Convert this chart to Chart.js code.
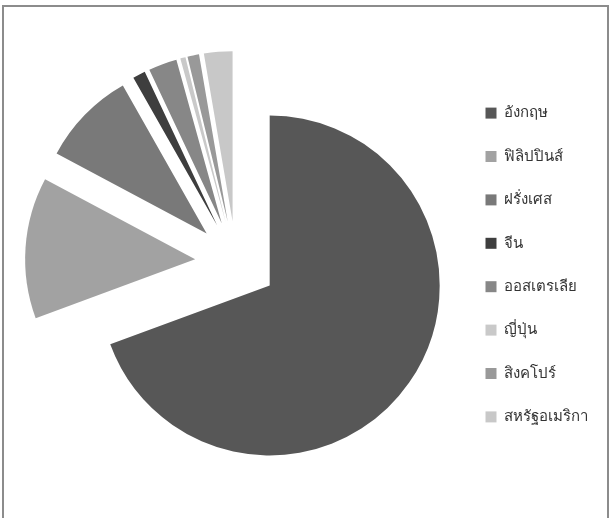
<!DOCTYPE html>
<html>
<head>
<meta charset="utf-8">
<script src="https://cdn.jsdelivr.net/npm/chart.js@4.4.1/dist/chart.umd.min.js"></script>
<style>
  html, body { margin: 0; padding: 0; background: #fff; }
  #wrap { position: relative; width: 611px; height: 518px; overflow: hidden; }
  #frame {
    position: absolute; left: 2px; top: 5px; width: 603px; height: 530px;
    border: 2px solid #8c8c8c; border-bottom: none; pointer-events: none;
  }
  canvas { position: absolute; left: 0; top: 0; }
</style>
</head>
<body>
<div id="wrap">
  <canvas id="pieChart" width="611" height="518"></canvas>
  <div id="frame"></div>
</div>
<script>
const countries = ['อังกฤษ', 'ฟิลิปปินส์', 'ฝรั่งเศส', 'จีน', 'ออสเตรเลีย', 'ญี่ปุ่น', 'สิงคโปร์', 'สหรัฐอเมริกา'];
const shares = [69.3, 13.4, 9.0, 1.2, 2.7, 0.5, 1.1, 2.7];
const greys = ['#575757', '#a2a2a2', '#797979', '#3e3e3e', '#878787', '#c9c9c9', '#999999', '#c8c8c8'];

// every slice pulled out from the centre by the same distance
const EXPLODE = 41;

const explodePlugin = {
    id: 'explode',
    beforeDatasetDraw(chart, args) {
        const ctx = chart.ctx;
        args.meta.data.forEach(arc => {
            const mid = (arc.startAngle + arc.endAngle) / 2;
            ctx.save();
            ctx.translate(Math.cos(mid) * EXPLODE, Math.sin(mid) * EXPLODE);
            arc.draw(ctx);
            ctx.restore();
        });
        return false;
    }
};

new Chart('pieChart', {
    type: 'pie',
    data: {
        labels: countries,
        datasets: [{
            data: shares,
            backgroundColor: greys,
            borderWidth: 0
        }]
    },
    options: {
        responsive: false,
        animation: false,
        radius: 170,
        layout: { padding: { left: 15, top: 6, right: 13, bottom: 0 } },
        plugins: {
            legend: {
                position: 'right',
                // empty title just nudges the items down a little
                title: { display: true, text: '', font: { size: 5 }, padding: 0 },
                labels: {
                    boxWidth: 11,
                    boxHeight: 11,
                    padding: 28.4,
                    color: '#333',
                    font: { size: 15, family: '"Noto Sans", "DejaVu Sans", sans-serif' }
                }
            },
            tooltip: { enabled: false }
        }
    },
    plugins: [explodePlugin]
});
</script>
</body>
</html>
